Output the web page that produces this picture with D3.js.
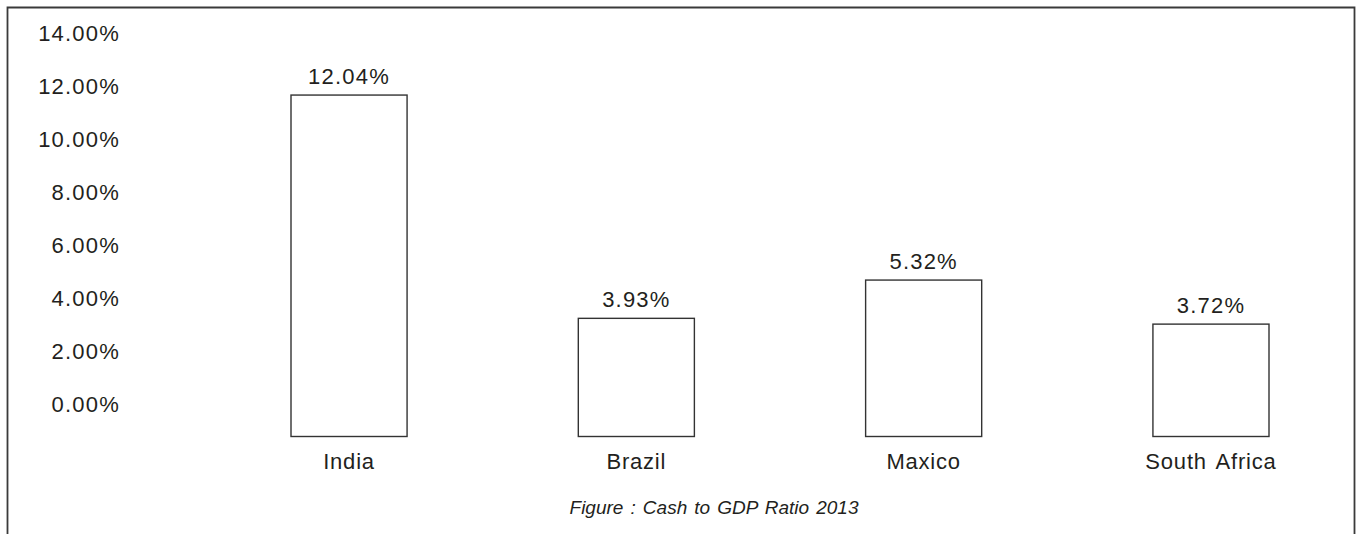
<!DOCTYPE html>
<html>
<head>
<meta charset="utf-8">
<script src="https://cdn.jsdelivr.net/npm/d3@7"></script>
<style>
  html, body { margin: 0; padding: 0; background: #fff; }
  svg { display: block; }
  text { font-family: "Liberation Sans", Arial, Helvetica, sans-serif; fill: #231f20; }
</style>
</head>
<body>
<svg id="chart" width="1357" height="534"></svg>
<script>
const categories = ["India", "Brazil", "Maxico", "South Africa"];
const values = [12.04, 3.93, 5.32, 3.72];
const valueLabels = ["12.04%", "3.93%", "5.32%", "3.72%"];
const tickValues = [0, 2, 4, 6, 8, 10, 12, 14];
const tickLabels = ["0.00%", "2.00%", "4.00%", "6.00%", "8.00%", "10.00%", "12.00%", "14.00%"];
const title = "Figure : Cash to GDP Ratio 2013";

const W = 1357, H = 534;
const svg = d3.select("#chart");
const ink = "#231f20";

// frame (open at the bottom)
svg.append("path")
  .attr("d", `M7.5,${H} V7.5 H1354.5 V${H}`)
  .attr("fill", "none")
  .attr("stroke", "#3a3a3a")
  .attr("stroke-width", 1.8);

const x = d3.scaleBand().domain(categories).range([291, 1269]).paddingInner(0.596).paddingOuter(0);
// bar scale: the drawn baseline sits slightly below the zero value in the source figure
const yBar = d3.scaleLinear().domain([-0.362, 14]).range([436.5, 41.1]);
const base = yBar.domain()[0];
const yTick = d3.scaleLinear().domain([0, 14]).range([404, 33]);

// tick labels (no axis line, no tick marks)
const axis = d3.axisLeft(yTick).tickValues(tickValues).tickSize(0).tickPadding(0)
  .tickFormat((d, i) => tickLabels[i]);
const gAxis = svg.append("g").attr("transform", "translate(120,0)").call(axis);
gAxis.select(".domain").remove();
gAxis.selectAll("text").attr("font-size", 22).attr("fill", ink)
  .style("letter-spacing", "1.2px")
  .style("font-family", '"Liberation Sans", Arial, sans-serif');

const data = categories.map((c, i) => ({ c, v: values[i], l: valueLabels[i] }));

svg.selectAll("rect.bar").data(data).join("rect")
  .attr("class", "bar")
  .attr("x", d => x(d.c))
  .attr("y", d => yBar(d.v))
  .attr("width", x.bandwidth())
  .attr("height", d => yBar(base) - yBar(d.v))
  .attr("fill", "#fff")
  .attr("stroke", "#333")
  .attr("stroke-width", 1.4);

svg.selectAll("text.val").data(data).join("text")
  .attr("class", "val")
  .attr("x", d => x(d.c) + x.bandwidth() / 2)
  .attr("y", d => yBar(d.v) - 11)
  .attr("text-anchor", "middle")
  .attr("font-size", 22)
  .style("letter-spacing", "1.2px")
  .text(d => d.l);

svg.selectAll("text.cat").data(data).join("text")
  .attr("class", "cat")
  .attr("x", d => x(d.c) + x.bandwidth() / 2)
  .attr("y", yBar(base) + 32)
  .attr("text-anchor", "middle")
  .attr("font-size", 22)
  .style("letter-spacing", "0.8px")
  .style("word-spacing", "3px")
  .text(d => d.c);

svg.append("text")
  .attr("x", 714)
  .attr("y", 514)
  .attr("text-anchor", "middle")
  .attr("font-size", 19)
  .attr("font-style", "italic")
  .style("word-spacing", "1.8px")
  .text(title);
</script>
</body>
</html>
